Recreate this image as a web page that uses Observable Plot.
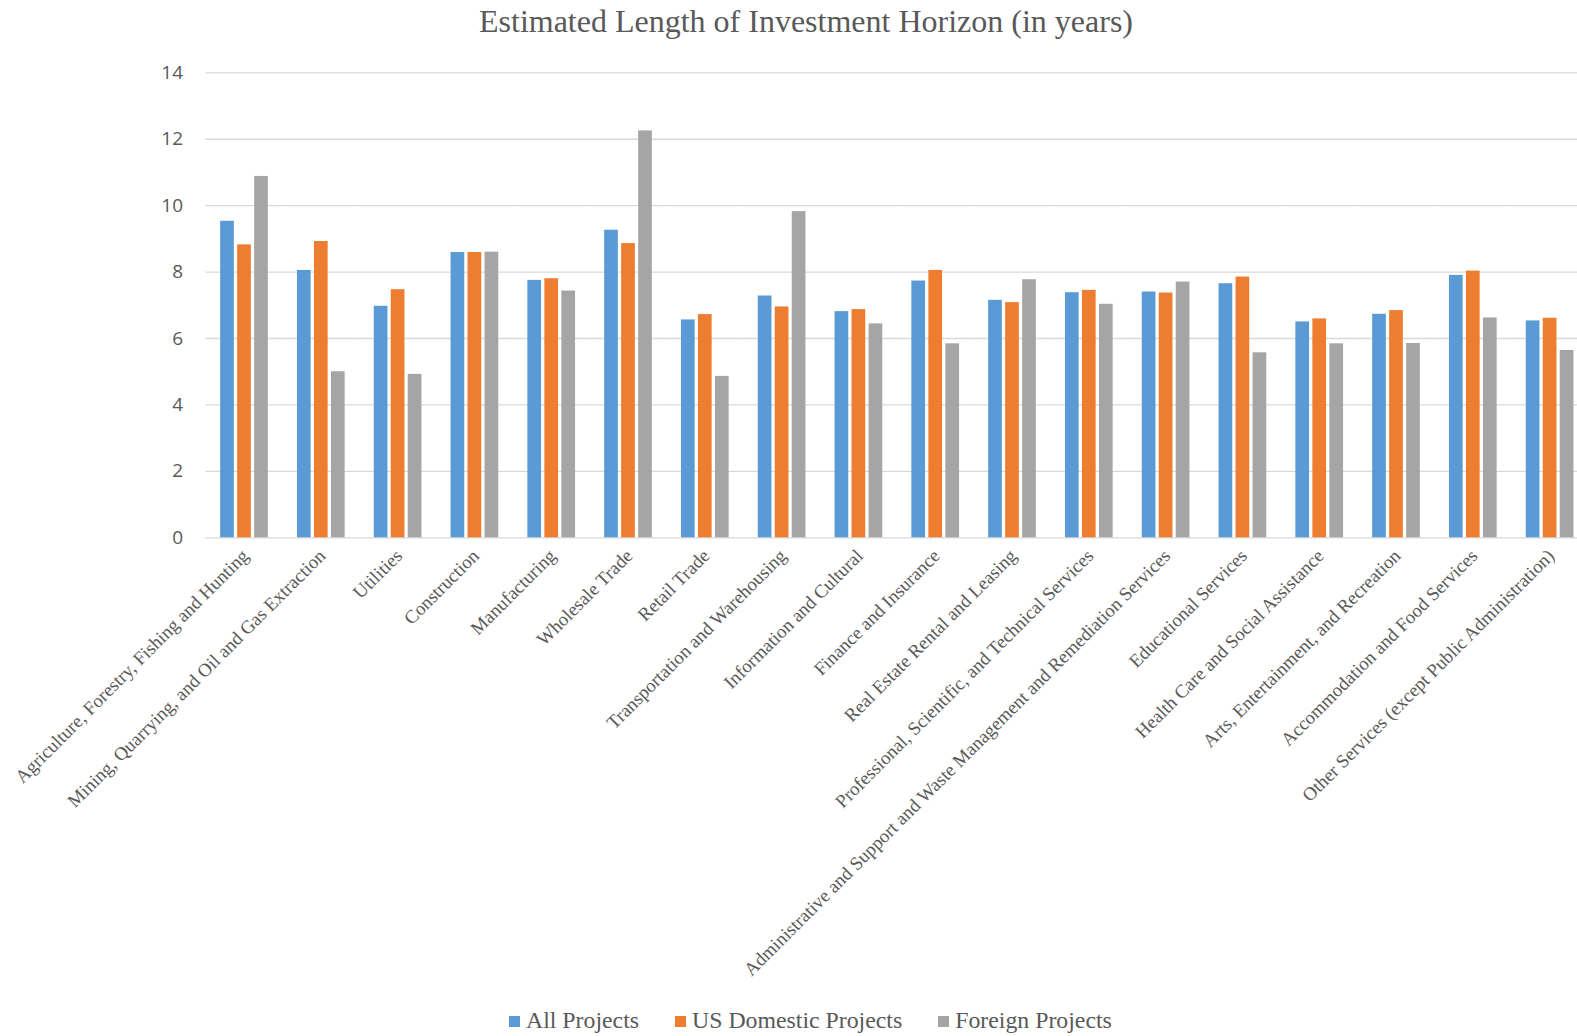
<!DOCTYPE html>
<html>
<head>
<meta charset="utf-8">
<script src="https://cdn.jsdelivr.net/npm/d3@7"></script>
<script src="https://cdn.jsdelivr.net/npm/@observablehq/plot@0.6"></script>
<style>
  html, body { margin: 0; padding: 0; background: #fff; overflow: hidden; }
  #wrap { position: relative; width: 1577px; height: 1036px; overflow: hidden; }
  #title {
    height: 42px; line-height: 42px; text-align: center;
    font-family: "Liberation Serif", "Times New Roman", serif;
    font-size: 32px; color: #595959; width: 1612px;
  }
  #chart { width: 1600px; }
  #chart svg { display: block; max-width: none !important; width: 1600px !important; height: 950px !important; }
  #legend {
    position: absolute; left: 509px; top: 1004px; height: 32px;
    display: flex; align-items: center;
    font-family: "Liberation Serif", "Times New Roman", serif;
    font-size: 23.8px; color: #595959; white-space: nowrap;
  }
  #legend .item { display: flex; align-items: center; margin-right: 36px; }
  #legend .sw { width: 11px; height: 11px; margin-right: 6px; margin-top: 3px; }
</style>
</head>
<body>
<div id="wrap">
  <div id="title">Estimated Length of Investment Horizon (in years)</div>
  <div id="chart"></div>
  <div id="legend"></div>
</div>
<script>
// Industry sectors along the x axis
const categories = [
  "Agriculture, Forestry, Fishing and Hunting",
  "Mining, Quarrying, and Oil and Gas Extraction",
  "Utilities",
  "Construction",
  "Manufacturing",
  "Wholesale Trade",
  "Retail Trade",
  "Transportation and Warehousing",
  "Information and Cultural",
  "Finance and Insurance",
  "Real Estate Rental and Leasing",
  "Professional, Scientific, and Technical Services",
  "Administrative and Support and Waste Management and Remediation Services",
  "Educational Services",
  "Health Care and Social Assistance",
  "Arts, Entertainment, and Recreation",
  "Accommodation and Food Services",
  "Other Services (except Public Administration)"
];

// Series names and colours
const seriesNames = ["All Projects", "US Domestic Projects", "Foreign Projects"];
const seriesColors = ["#5B9BD5", "#ED7D31", "#A5A5A5"];

// Estimated horizon in years, one value per sector
const allProjects = [9.53, 8.05, 6.97, 8.59, 7.75, 9.26, 6.56, 7.28, 6.81, 7.73, 7.15, 7.38, 7.40, 7.65, 6.50, 6.73, 7.90, 6.53];
const usDomestic  = [8.82, 8.92, 7.47, 8.59, 7.80, 8.86, 6.72, 6.95, 6.87, 8.05, 7.08, 7.45, 7.37, 7.85, 6.59, 6.84, 8.03, 6.61];
const foreign     = [10.88, 5.00, 4.92, 8.60, 7.43, 12.25, 4.86, 9.82, 6.44, 5.84, 7.77, 7.03, 7.70, 5.57, 5.84, 5.85, 6.62, 5.64];

// Y axis tick values
const yTicks = [0, 2, 4, 6, 8, 10, 12, 14];

// Long-format table for the grouped bars
const seriesValues = [allProjects, usDomestic, foreign];
const rows = [];
categories.forEach((c, i) => {
  seriesNames.forEach((s, j) => rows.push({category: c, series: s, value: seriesValues[j][i]}));
});

const chart = Plot.plot({
  width: 1600,
  height: 950,
  marginLeft: 205.6,
  marginRight: 12,
  marginTop: 30.3,
  marginBottom: 454.7,
  style: {fontFamily: "'Liberation Serif', 'Times New Roman', serif", color: "#595959", background: "white", maxWidth: "none"},
  fx: {domain: categories, padding: 0, round: false, label: null},
  x: {domain: seriesNames, paddingInner: 0.194, paddingOuter: 0.856, round: false, axis: null},
  y: {domain: [0, 14], label: null},
  color: {domain: seriesNames, range: seriesColors},
  marks: [
    Plot.gridY(yTicks, {stroke: "#d9d9d9", strokeOpacity: 1, strokeWidth: 1.3}),
    Plot.barY(rows, {fx: "category", x: "series", y: "value", fill: "series"}),
    Plot.axisY(yTicks, {
      tickSize: 0, tickPadding: 23, label: null,
      fontFamily: "'Open Sans', sans-serif", fontSize: 19, fill: "#595959"
    }),
    Plot.axisFx({
      anchor: "bottom", tickRotate: -45, tickSize: 0, tickPadding: 15, dx: 1,
      label: null, fontSize: 18.8, fill: "#595959"
    })
  ]
});
document.getElementById("chart").appendChild(chart);

// Legend built from the same series names and colours
const legend = document.getElementById("legend");
seriesNames.forEach((name, i) => {
  const item = document.createElement("div");
  item.className = "item";
  const sw = document.createElement("span");
  sw.className = "sw";
  sw.style.background = seriesColors[i];
  const label = document.createElement("span");
  label.textContent = name;
  item.appendChild(sw);
  item.appendChild(label);
  legend.appendChild(item);
});
</script>
</body>
</html>
